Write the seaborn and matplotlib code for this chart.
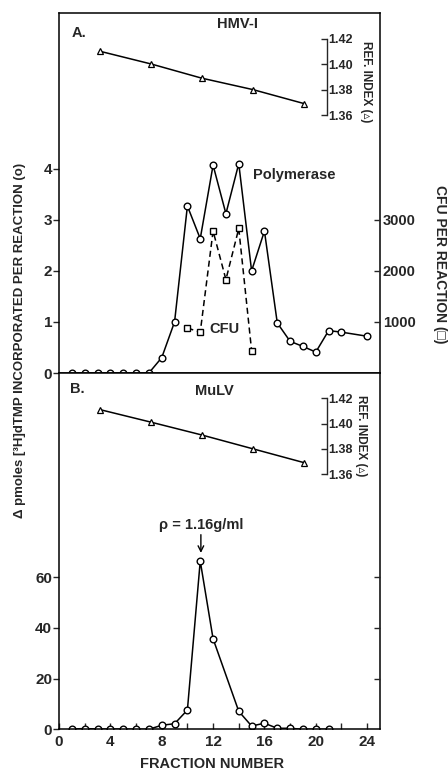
import matplotlib
matplotlib.use('Agg')
import matplotlib.pyplot as plt
import seaborn as sns
from matplotlib.ticker import MultipleLocator, FixedLocator

# Panel A: HMV-I
hmv_frac = [1, 2, 3, 4, 5, 6, 7, 8, 9, 10, 11, 12, 13, 14, 15, 16, 17, 18, 19, 20, 21, 22, 24]
hmv_pol = [0, 0, 0, 0, 0, 0, 0, 0.3, 1.0, 3.27, 2.63, 4.07, 3.12, 4.10, 2.0, 2.78,
           0.98, 0.62, 0.52, 0.41, 0.83, 0.80, 0.72]
cfu_frac = [10, 11, 12, 13, 14, 15]
cfu_vals = [880, 800, 2780, 1830, 2830, 440]

# refractive index points (both panels)
ref_frac = [3.2, 7.2, 11.1, 15.1, 19.1]
hmv_ref = [1.410, 1.400, 1.389, 1.380, 1.369]
mulv_ref = [1.411, 1.401, 1.391, 1.380, 1.369]

# Panel B: MuLV
mulv_frac = [1, 2, 3, 4, 5, 6, 7, 8, 9, 10, 11, 12, 14, 15, 16, 17, 18, 19, 20, 21]
mulv_pol = [0.1, 0.3, 0.1, 0.1, 0.1, 0, 0, 1.6, 2.2, 7.6, 66.4, 35.7, 7.1, 1.3, 2.4,
            0.4, 0.4, 0, 0, 0]

ref_ticks = [1.36, 1.38, 1.40, 1.42]
x_major = [0, 4, 8, 12, 16, 20, 24]

sns.set_style('ticks')
plt.rcParams['font.family'] = ['Liberation Sans', 'DejaVu Sans']
plt.rcParams['font.weight'] = 'bold'

W, H = 448, 771
fig = plt.figure(figsize=(W / 100, H / 100), dpi=100)

L, R = 59 / W, 380 / W
top_a, bot_a = 1 - 13 / H, 1 - 373 / H
bot_b = 1 - 729.3 / H
ax_a = fig.add_axes([L, bot_a, R - L, top_a - bot_a])
ax_b = fig.add_axes([L, bot_b, R - L, bot_a - bot_b], sharex=ax_a)

circ = dict(marker='o', markersize=4.8, markerfacecolor='white',
            markeredgecolor='black', markeredgewidth=1.0, color='black', linewidth=1.1)
tri = dict(marker='^', markersize=4.2, markerfacecolor='white',
           markeredgecolor='black', markeredgewidth=0.9, color='black', linewidth=1.1)

for ax in (ax_a, ax_b):
    for s in ax.spines.values():
        s.set_linewidth(1.1)
        s.set_color('black')
    ax.set_xlim(0, 25)

# ---- panel A ----
sns.lineplot(x=hmv_frac, y=hmv_pol, ax=ax_a, **circ)
ax_a.set_ylim(0, 7.05)
ax_a.set_yticks([0, 1, 2, 3, 4])
ax_a.tick_params(axis='y', direction='out', length=4, width=1, labelsize=11, pad=1,
                 right=False)
ax_a.tick_params(axis='x', bottom=False, labelbottom=False)

ax_cfu = ax_a.twinx()
sns.lineplot(x=cfu_frac, y=cfu_vals, ax=ax_cfu, marker='s', markersize=4,
             markerfacecolor='white', markeredgecolor='black', markeredgewidth=1.0,
             color='black', linewidth=1.1, linestyle=(0, (4, 2.5)))
ax_cfu.set_ylim(0, 7050)
ax_cfu.set_yticks([1000, 2000, 3000])
ax_cfu.tick_params(axis='y', direction='in', length=4, width=1, labelsize=10.5, pad=2)
for s in ax_cfu.spines.values():
    s.set_visible(False)
ax_cfu.set_ylabel('')

ax_ra = ax_a.twinx()
sns.lineplot(x=ref_frac, y=hmv_ref, ax=ax_ra, **tri)

# ---- panel B ----
sns.lineplot(x=mulv_frac, y=mulv_pol, ax=ax_b, **circ)
ax_b.set_ylim(0, 140.6)
ax_b.set_yticks([0, 20, 40, 60])
ax_b.tick_params(axis='y', direction='out', length=4, width=1, labelsize=11, pad=1,
                 right=False)
ax_b.xaxis.set_major_locator(FixedLocator(x_major))
ax_b.xaxis.set_minor_locator(MultipleLocator(2))
ax_b.tick_params(axis='x', which='both', direction='in', length=4, width=1,
                 labelsize=11, pad=4)

ax_bright = ax_b.twinx()
ax_bright.set_ylim(0, 140.6)
ax_bright.set_yticks([20, 40, 60])
ax_bright.tick_params(axis='y', direction='in', length=4, width=1, labelright=False)
for s in ax_bright.spines.values():
    s.set_visible(False)

ax_rb = ax_b.twinx()
sns.lineplot(x=ref_frac, y=mulv_ref, ax=ax_rb, **tri)

for axr in (ax_ra, ax_rb):
    axr.set_ylim(1.158, 1.44)
    for k in ('top', 'bottom', 'left'):
        axr.spines[k].set_visible(False)
    axr.spines['right'].set_position(('axes', 0.835))
    axr.spines['right'].set_bounds(1.36, 1.42)
    axr.spines['right'].set_linewidth(1.0)
    axr.set_yticks(ref_ticks)
    axr.set_yticklabels(['%.2f' % t for t in ref_ticks])
    axr.tick_params(axis='y', direction='in', length=4, width=1, labelsize=9, pad=1)
    axr.set_ylabel('')

for axx in (ax_a, ax_b, ax_cfu, ax_ra, ax_rb, ax_bright):
    axx.set_xlabel('')

ax_a.set_ylabel('')
ax_b.set_ylabel('')

# ---- text ----
ax_a.text(0.04, 0.945, 'A.', transform=ax_a.transAxes, fontsize=10.5, ha='left', va='center')
ax_a.text(0.555, 0.97, 'HMV-I', transform=ax_a.transAxes, fontsize=10.5, ha='center', va='center')
ax_a.text(15.1, 3.87, 'Polymerase', fontsize=10.5, ha='left', va='center')
ax_a.text(11.7, 0.87, 'CFU', fontsize=10.5, ha='left', va='center')
ax_a.text(0.955, 0.808, 'REF. INDEX (▵)', transform=ax_a.transAxes, rotation=-90,
          fontsize=8.5, ha='center', va='center')

ax_b.text(0.035, 0.955, 'B.', transform=ax_b.transAxes, fontsize=10.5, ha='left', va='center')
ax_b.text(0.485, 0.95, 'MuLV', transform=ax_b.transAxes, fontsize=10.5, ha='center', va='center')
ax_b.text(0.94, 0.823, 'REF. INDEX (▵)', transform=ax_b.transAxes, rotation=-90,
          fontsize=8.5, ha='center', va='center')
ax_b.text(11.05, 80.6, 'ρ = 1.16g/ml', fontsize=10.5, ha='center', va='center')
ax_b.annotate('', xy=(11.05, 69.6), xytext=(11.05, 76.8),
              arrowprops=dict(arrowstyle='->', color='black', lw=1, shrinkA=0, shrinkB=0))

fig.text(20 / W, 1 - 340 / H, 'Δ pmoles [³H]dTMP INCORPORATED PER REACTION (o)',
         rotation=90, fontsize=9.5, ha='center', va='center')
fig.text(440 / W, 1 - 264 / H, 'CFU PER REACTION (□)', rotation=-90,
         fontsize=10, ha='center', va='center')
fig.text(212 / W, 1 - 764 / H, 'FRACTION NUMBER', fontsize=10.5, ha='center', va='center')

fig.savefig('out.png', dpi=100)
